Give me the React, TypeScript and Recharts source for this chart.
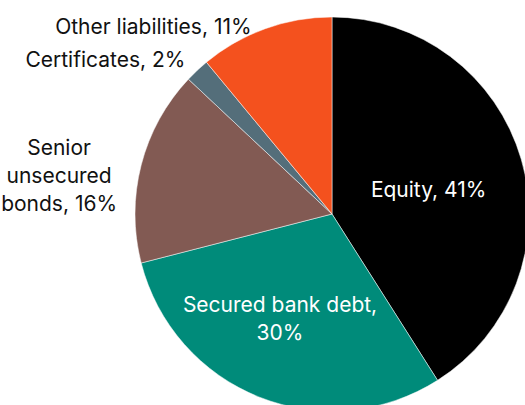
import { PieChart, Pie, Cell } from "recharts";

const categories = [
  "Equity",
  "Secured bank debt",
  "Senior unsecured bonds",
  "Certificates",
  "Other liabilities",
];

const shares = [41, 30, 16, 2, 11];

// how each label is broken into lines
const labelLines = [
  ["Equity, 41%"],
  ["Secured bank debt,", "30%"],
  ["Senior", "unsecured", "bonds, 16%"],
  ["Certificates, 2%"],
  ["Other liabilities, 11%"],
];

const COLORS = ["#000000", "#008B7A", "#825A53", "#546E7A", "#F4511E"];

const data = categories.map((name, i) => ({ name, value: shares[i] }));

// label distance from centre (fraction of outer radius) and small nudges
const LABEL_RADIUS = [0.5, 0.62, 1.1, 1.05, 1.04];
const LABEL_NUDGE = [
  [2, 2],
  [-7, -10],
  [-63, 15],
  [-5, -4],
  [-11, 5],
];
const LINE_HEIGHT = 28;

const RADIAN = Math.PI / 180;

function renderLabel(props: any) {
  const { cx, cy, midAngle, outerRadius, index } = props;
  const r = outerRadius * LABEL_RADIUS[index];
  const inside = LABEL_RADIUS[index] < 1;
  const lines = labelLines[index];
  const x = cx + r * Math.cos(-midAngle * RADIAN) + LABEL_NUDGE[index][0];
  const y = cy + r * Math.sin(-midAngle * RADIAN) + LABEL_NUDGE[index][1];
  const startY = y - ((lines.length - 1) * LINE_HEIGHT) / 2;
  const anchor = inside || lines.length > 1 ? "middle" : "end";
  return (
    <text
      x={x}
      y={startY}
      fill={inside ? "#ffffff" : "#111111"}
      textAnchor={anchor}
      dominantBaseline="central"
      fontSize={21}
      fontFamily="Inter, sans-serif"
    >
      {lines.map((line, i) => (
        <tspan key={line} x={x} dy={i === 0 ? 0 : LINE_HEIGHT}>
          {line}
        </tspan>
      ))}
    </text>
  );
}

export default function App() {
  return (
    <div style={{ position: "absolute", left: 0, top: 0 }}>
      <PieChart
        width={525}
        height={405}
        margin={{ top: 0, right: 0, bottom: 0, left: 0 }}
      >
        <Pie
          data={data}
          dataKey="value"
          nameKey="name"
          cx={332}
          cy={214}
          outerRadius={197}
          startAngle={90}
          endAngle={-270}
          label={renderLabel}
          labelLine={false}
          stroke="#ffffff"
          strokeWidth={0.5}
          isAnimationActive={false}
        >
          {data.map((entry, index) => (
            <Cell key={`cell-${entry.name}`} fill={COLORS[index]} />
          ))}
        </Pie>
      </PieChart>
    </div>
  );
}
